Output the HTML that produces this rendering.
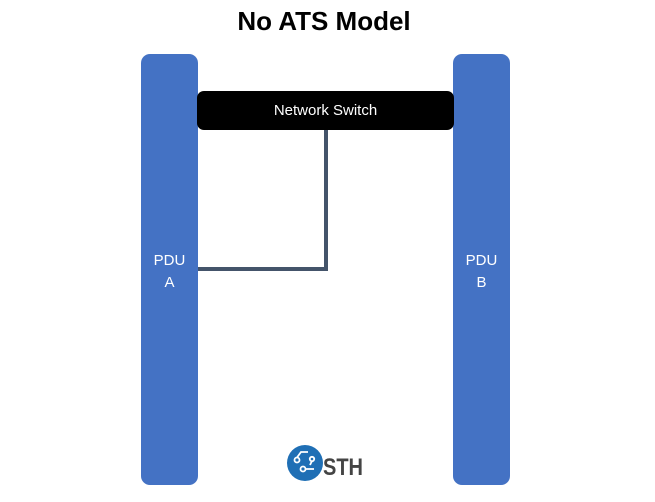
<!DOCTYPE html>
<html><head><style>
body{margin:0;width:655px;height:502px;background:#fff;position:relative;overflow:hidden;font-family:"Liberation Sans",sans-serif}
.t{position:absolute;left:0;width:648px;top:6px;text-align:center;font-weight:bold;font-size:26px;color:#000}
.pdu{position:absolute;top:54px;width:57px;height:431px;background:#4472c4;border-radius:9px;color:#fff;font-size:15px;text-align:center;box-sizing:border-box;padding-top:196px;line-height:22px}
.sw{position:absolute;left:197px;top:91px;width:257px;height:39px;background:#000;border-radius:7px;color:#fff;font-size:15px;text-align:center;line-height:40px}
</style></head><body>
<div class="t">No ATS Model</div>
<div class="pdu" style="left:141px">PDU<br>A</div>
<div class="pdu" style="left:453px">PDU<br>B</div>
<svg style="position:absolute;left:0;top:0" width="655" height="502">
<polyline points="198,269 326,269 326,130" fill="none" stroke="#44546a" stroke-width="4"/>
</svg>
<div class="sw">Network Switch</div>
<svg style="position:absolute;left:286px;top:444px" width="84" height="40">
<circle cx="19" cy="19" r="18" fill="#1f6fb5"/>
<g stroke="#fff" stroke-width="1.8" fill="none">
<circle cx="11" cy="16" r="2.5"/><circle cx="17" cy="25" r="2.5"/><circle cx="26" cy="15" r="2.2"/>
<path d="M11 13.5 L15 8 L22 8 M19.5 25 L28 25 M26 17 L24 21"/>
</g>
<text x="37" y="31" font-family="Liberation Sans, sans-serif" font-size="24" font-weight="bold" fill="#444" textLength="40" lengthAdjust="spacingAndGlyphs">STH</text>
</svg>
</body></html>
